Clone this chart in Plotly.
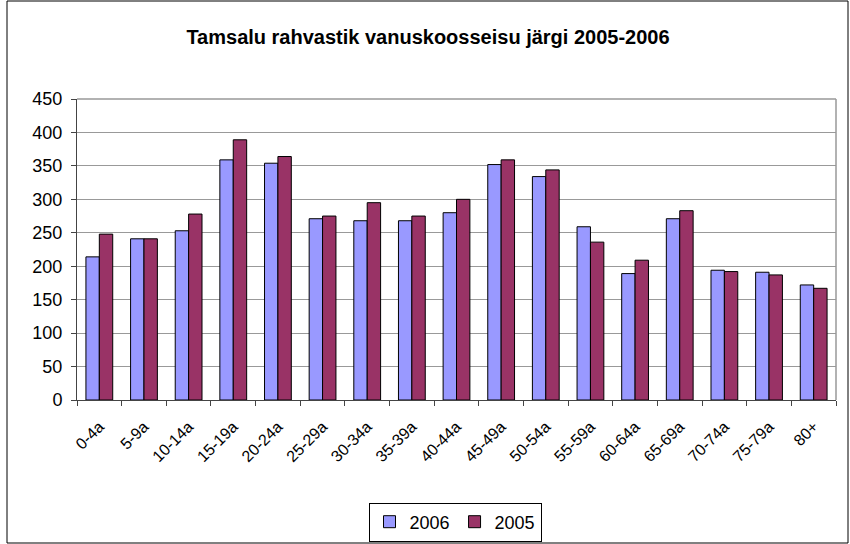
import plotly.graph_objects as go

categories = ["0-4a", "5-9a", "10-14a", "15-19a", "20-24a", "25-29a", "30-34a", "35-39a",
              "40-44a", "45-49a", "50-54a", "55-59a", "60-64a", "65-69a", "70-74a", "75-79a", "80+"]
values_2006 = [214, 241, 253, 359, 354, 271, 268, 268, 280, 352, 334, 259, 189, 271, 194, 191, 172]
values_2005 = [248, 241, 278, 389, 364, 275, 295, 275, 300, 359, 344, 236, 209, 283, 192, 187, 167]
y_ticks = [0, 50, 100, 150, 200, 250, 300, 350, 400, 450]

fig = go.Figure()
fig.add_trace(go.Bar(name="2006", x=categories, y=values_2006,
                     marker=dict(color="#9999FF", line=dict(color="black", width=1))))
fig.add_trace(go.Bar(name="2005", x=categories, y=values_2005,
                     marker=dict(color="#993366", line=dict(color="black", width=1))))

L, R, T, B = 77, 14, 99, 144
W, H = 850, 544
pw, ph = W - L - R, H - T - B

def px(xp):
    return (xp - L) / pw

def py(yp):
    return (H - B - yp) / ph

fig.update_layout(
    width=W, height=H,
    margin=dict(l=L, r=R, t=T, b=B, autoexpand=False),
    paper_bgcolor="white", plot_bgcolor="white",
    font=dict(family="Liberation Sans, Arial, sans-serif", size=15, color="black"),
    title=dict(text="<b>Tamsalu rahvastik vanuskoosseisu järgi 2005-2006</b>",
               x=(428 - L) / pw, xref="paper", xanchor="center", y=1 - 37 / H, yanchor="middle",
               font=dict(size=20)),
    barmode="group", bargap=0.4, bargroupgap=0.0,
    showlegend=True,
    legend=dict(orientation="h", x=px(455), y=py(522), xanchor="center", yanchor="middle",
                bordercolor="black", borderwidth=1, bgcolor="white",
                font=dict(size=18), itemwidth=30, tracegroupgap=0),
    xaxis=dict(type="category", tickangle=-45, ticks="outside", tickson="boundaries",
               ticklen=5, tickcolor="#444", showline=True, linecolor="#444", linewidth=1,
               showgrid=False, tickfont=dict(size=16), automargin=False,
               ticklabelstandoff=10),
    yaxis=dict(range=[0, 450], tickvals=y_ticks, ticks="outside", ticklen=5, tickcolor="#444",
               showline=True, linecolor="#444", linewidth=1,
               showgrid=True, gridcolor="#999999", gridwidth=1,
               zeroline=False, tickfont=dict(size=18), automargin=False,
               ticklabelstandoff=5),
    shapes=[
        dict(type="line", xref="paper", yref="paper", x0=0, x1=1, y0=1, y1=1,
             line=dict(color="#999999", width=1.5)),
        dict(type="line", xref="paper", yref="paper", x0=1, x1=1, y0=0, y1=1,
             line=dict(color="#999999", width=1.5)),
        dict(type="rect", xref="paper", yref="paper", x0=px(7), x1=px(848), y0=py(543), y1=py(1),
             line=dict(color="black", width=1), fillcolor="rgba(0,0,0,0)", layer="below"),
    ],
)

fig.write_html("out.html", config={"displayModeBar": False},
               post_script="document.body.style.margin='0';")
